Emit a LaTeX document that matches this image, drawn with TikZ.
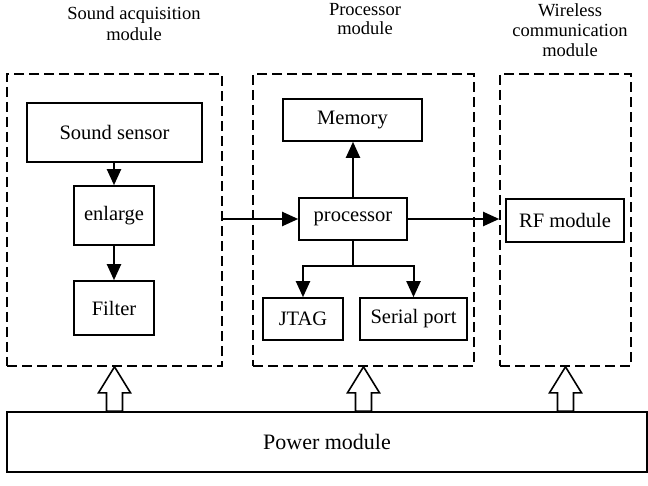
\documentclass[tikz,border=0pt]{standalone}
\usepackage{fontspec}
\setmainfont{Liberation Serif}
\usetikzlibrary{arrows.meta,calc}
\begin{document}
\begin{tikzpicture}[x=1pt,y=-1pt,
  box/.style={draw,line width=1.6pt,inner sep=0pt,font=\fontsize{20.5}{24}\selectfont},
  dbox/.style={draw,line width=1.6pt,dash pattern=on 10pt off 5pt,inner sep=0pt},
  title/.style={align=center,font=\fontsize{18.5}{21}\selectfont},
  arr/.style={line width=2pt,-{Triangle[length=16pt,width=14pt]}},
  ln/.style={line width=2pt},
  blk/.style={draw,line width=1.6pt,fill=white,line join=miter}]
\useasboundingbox (0,0) rectangle (648,486);
\clip (0,0) rectangle (648,486);
% dashed module boxes
\node[dbox,minimum width=215pt,minimum height=292pt] (lbox) at (114.5,220) {};
\node[dbox,minimum width=221pt,minimum height=292pt] (mbox) at (363.5,220) {};
\node[dbox,minimum width=131pt,minimum height=292pt] (rbox) at (565.5,220) {};
% titles
\node[title] (tl) at (134,24) {Sound acquisition\\module};
\node[title,font=\fontsize{18.5}{19.5}\selectfont] (tm) at (365,19) {Processor\\module};
\node[title,font=\fontsize{18.5}{20}\selectfont] (tr) at (570,30) {Wireless\\communication\\module};
% left inner boxes
\node[box,minimum width=175pt,minimum height=59pt] (sensor) at (114.5,132.5) {Sound sensor};
\node[box,minimum width=80pt,minimum height=59pt] (enl) at (114,215.5) {enlarge};
\node[box,minimum width=80pt,minimum height=54pt] (filt) at (114,308) {Filter};
% processor module
\node[box,minimum width=139pt,minimum height=42pt] (mem) at (352.5,120) {Memory};
\node[box,minimum width=108pt,minimum height=42pt] (proc) at (353,219) {processor};
\node[box,minimum width=80pt,minimum height=42pt] (jtag) at (303,319) {JTAG};
\node[box,minimum width=107pt,minimum height=42pt] (ser) at (413.5,319) {Serial port};
% RF
\node[box,minimum width=118pt,minimum height=43pt] (rf) at (565,220.5) {RF module};
% power
\node[box,minimum width=640pt,minimum height=60pt,font=\fontsize{22}{26}\selectfont] (pow) at (327,442) {Power module};
% connectors
\draw[arr] (sensor.south -| enl.north) -- (enl.north);
\draw[arr] (enl.south) -- (filt.north);
\draw[arr] (lbox.east |- proc.west) -- (proc.west);
\draw[arr] (proc.east) -- (rbox.west |- proc.east);
\draw[arr] (proc.north) -- (proc.north |- mem.south);
\coordinate (split) at ($(proc.south)+(0,25)$);
\draw[ln] (proc.south) -- (split);
\draw[arr] (split) -| (jtag.north);
\draw[arr] (split) -| (ser.north);
% block arrows from power module
\foreach \b in {lbox,mbox,rbox}{
  \coordinate (tip) at (\b.south);
  \coordinate (foot) at (pow.north -| tip);
  \draw[blk] (tip) -- ($(tip)+(16,26)$) -- ($(tip)+(8,26)$) -- ($(foot)+(8,0)$)
    -- ($(foot)+(-8,0)$) -- ($(tip)+(-8,26)$) -- ($(tip)+(-16,26)$) -- cycle;
}
\end{tikzpicture}
\end{document}
